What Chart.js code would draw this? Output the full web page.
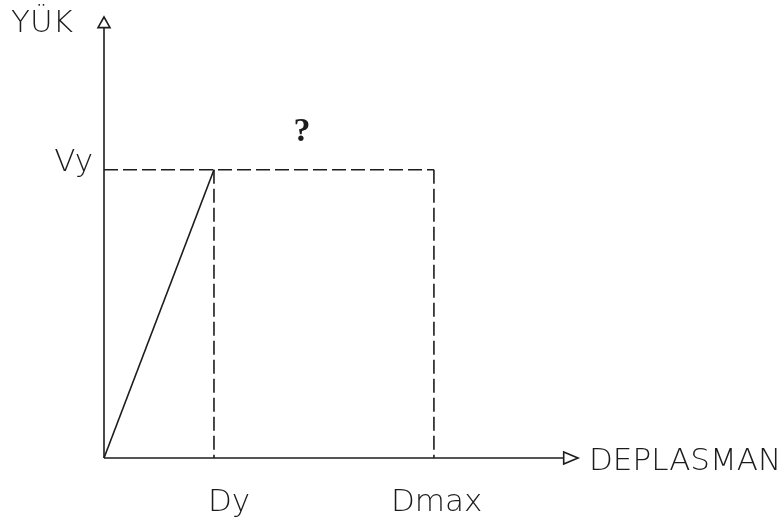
<!DOCTYPE html>
<html>
<head>
<meta charset="utf-8">
<script src="https://cdn.jsdelivr.net/npm/chart.js@4"></script>
<style>
  html, body { margin: 0; padding: 0; background: #fff; }
  #wrap { width: 784px; height: 525px; position: relative; }
</style>
</head>
<body>
<div id="wrap"><canvas id="grafica"></canvas></div>
<script>
// schematic values (Dy = 1, Vy = 1)
const tickNames = ['Dy', 'Dmax'];
const tickValues = [1, 3];
const loadNames = ['Vy'];
const loadValues = [1];
const axisTitles = ['YÜK', 'DEPLASMAN'];
const axisEnds = [4.18, 1.493];   // x, y where the arrows start
const scaleMax = [4.31, 1.53];    // x, y arrow tips

const ink = '#1c1c1c';
const thin = "'DejaVu Sans', 'Liberation Sans', sans-serif";

const linea = (pts, dash) => ({
    data: pts,
    showLine: true,
    borderColor: ink,
    borderWidth: 1.6,
    borderDash: dash || [],
    pointRadius: 0,
    fill: false,
    clip: false
});

const dy = tickValues[0], dmax = tickValues[1], vy = loadValues[0];

const etiquetas = {
    id: 'etiquetas',
    afterDatasetsDraw(chart) {
        const ctx = chart.ctx;
        const sx = chart.scales.x, sy = chart.scales.y;
        const x0 = sx.getPixelForValue(0), y0 = sy.getPixelForValue(0);
        ctx.save();
        ctx.strokeStyle = ink;
        ctx.lineWidth = 1.6;
        ctx.fillStyle = '#fff';
        // arrow on y axis
        const ty = sy.getPixelForValue(scaleMax[1]), by = sy.getPixelForValue(axisEnds[1]);
        ctx.beginPath();
        ctx.moveTo(x0, ty); ctx.lineTo(x0 - 6, by); ctx.lineTo(x0 + 6, by); ctx.closePath();
        ctx.fill(); ctx.stroke();
        // arrow on x axis
        const tx = sx.getPixelForValue(scaleMax[0]), bx = sx.getPixelForValue(axisEnds[0]);
        ctx.beginPath();
        ctx.moveTo(tx, y0); ctx.lineTo(bx, y0 - 6); ctx.lineTo(bx, y0 + 6); ctx.closePath();
        ctx.fill(); ctx.stroke();

        ctx.fillStyle = ink;
        ctx.font = '200 31px ' + thin;
        ctx.textBaseline = 'alphabetic';
        // axis titles
        ctx.textAlign = 'left';
        ctx.fillText(axisTitles[0], 11, 32);
        ctx.fillText(axisTitles[1], tx + 11, y0 + 12);
        // Vy
        ctx.textAlign = 'right';
        ctx.fillText(loadNames[0], x0 - 11, sy.getPixelForValue(vy) + 1);
        // Dy, Dmax
        ctx.textAlign = 'left';
        ctx.fillText(tickNames[0], sx.getPixelForValue(dy) - 6, y0 + 53);
        ctx.fillText(tickNames[1], sx.getPixelForValue(dmax) - 43, y0 + 53);
        // ?
        ctx.textAlign = 'center';
        ctx.font = 'bold 34px "Liberation Serif", serif';
        ctx.fillText('?', (sx.getPixelForValue(dy) + sx.getPixelForValue(dmax)) / 2 - 22, sy.getPixelForValue(vy) - 29);
        ctx.restore();
    }
};

new Chart(document.querySelector('#grafica'), {
    type: 'scatter',
    data: {
        datasets: [
            linea([{x: 0, y: 0}, {x: axisEnds[0], y: 0}]),
            linea([{x: 0, y: 0}, {x: 0, y: axisEnds[1]}]),
            linea([{x: 0, y: 0}, {x: dy, y: vy}]),
            linea([{x: 0, y: vy}, {x: dmax, y: vy}], [14, 5]),
            linea([{x: dy, y: vy}, {x: dy, y: 0}], [14, 5]),
            linea([{x: dmax, y: vy}, {x: dmax, y: 0}], [14, 5])
        ]
    },
    options: {
        responsive: true,
        maintainAspectRatio: false,
        animation: false,
        layout: { padding: { left: 104, top: 17, right: 206, bottom: 67 } },
        plugins: { legend: { display: false }, tooltip: { enabled: false } },
        scales: {
            x: { type: 'linear', display: false, min: 0, max: scaleMax[0] },
            y: { type: 'linear', display: false, min: 0, max: scaleMax[1] }
        }
    },
    plugins: [etiquetas]
});
</script>
</body>
</html>
